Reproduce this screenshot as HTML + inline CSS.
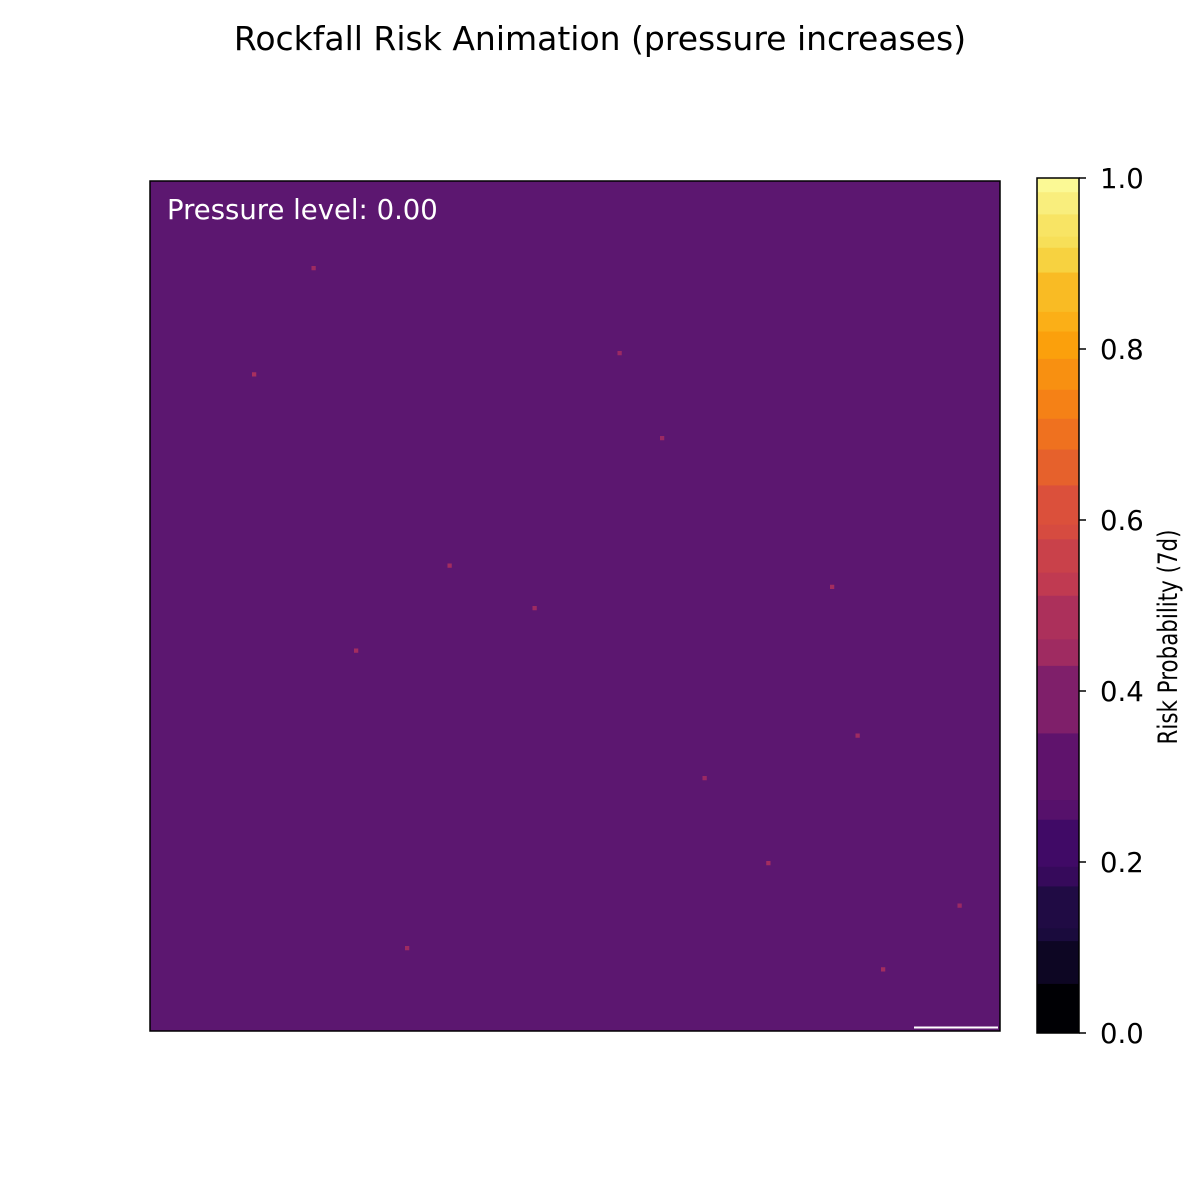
<!DOCTYPE html>
<html><head><meta charset="utf-8"><style>
html,body{margin:0;padding:0;background:#fff;}
svg{display:block;font-family:"DejaVu Sans","Liberation Sans",sans-serif;}
</style></head><body>
<svg id="chart" width="1200" height="1200" viewBox="0 0 1200 1200">
<text x="600" y="50" text-anchor="middle" font-size="33" fill="#000">Rockfall Risk Animation (pressure increases)</text>
<g id="heat"></g>
<line x1="914" y1="1027.5" x2="998" y2="1027.5" stroke="#fff" stroke-width="2"/>
<rect x="150" y="181" width="850" height="850" fill="none" stroke="#000" stroke-width="1.5"/>
<text x="167" y="219" font-size="27.5" fill="#fff">Pressure level: 0.00</text>
<g id="cbar"></g>
<text transform="translate(1177,637) rotate(-90)" text-anchor="middle" font-size="27" textLength="215" lengthAdjust="spacingAndGlyphs" fill="#000">Risk Probability (7d)</text>
</svg>
<script>
// Heatmap data: mean risk and a few visible hotspot cells (col,row in 0..199 grid, value)
const gridSize = 200;
const baseRisk = 0.30;
const hotCols = [24, 48, 90, 130, 70, 166, 145, 190, 38, 120, 172, 60, 110, 160];
const hotRows = [45, 110, 100, 140, 90, 130, 160, 170, 20, 60, 185, 180, 40, 95];
const hotVals = [0.45, 0.44, 0.43, 0.42, 0.44, 0.43, 0.44, 0.42, 0.43, 0.42, 0.44, 0.43, 0.42, 0.44];
// Colorbar band lower bounds
const bandEdges = [0, 0.058, 0.108, 0.123, 0.172, 0.195, 0.25, 0.273, 0.351, 0.43, 0.461, 0.512, 0.539, 0.578, 0.595, 0.641, 0.683, 0.719, 0.753, 0.789, 0.821, 0.844, 0.89, 0.919, 0.932, 0.958, 0.984, 1.0];
const cbTicks = [0.0, 0.2, 0.4, 0.6, 0.8, 1.0];
const cbTickLabels = ["0.0", "0.2", "0.4", "0.6", "0.8", "1.0"];

const NS = "http://www.w3.org/2000/svg";
const infStops = [[0,"#000004"],[0.1,"#160b39"],[0.2,"#420a68"],[0.3,"#6a176e"],[0.4,"#932667"],[0.5,"#bc3754"],[0.6,"#dd513a"],[0.7,"#f37819"],[0.8,"#fca50a"],[0.9,"#f6d746"],[1,"#fcffa4"]];
function hx(c){return [1,3,5].map(i=>parseInt(c.substr(i,2),16));}
function inferno(t){
  t=Math.max(0,Math.min(1,t));
  for(let i=0;i<infStops.length-1;i++){
    const [a,ca]=infStops[i],[b,cb]=infStops[i+1];
    if(t<=b){const f=(t-a)/(b-a);const A=hx(ca),B=hx(cb);
      return "rgb("+A.map((v,k)=>Math.round(v+(B[k]-v)*f)).join(",")+")";}
  }
  return infStops[infStops.length-1][1];
}
// axes
const px0=150,py0=181,pw=850;
const xCell=c=>px0+c*pw/gridSize, yCell=r=>py0+r*pw/gridSize;
const cb0=1033,cb1=178,cbx=1037,cbw=42;
const yCb=v=>cb0+(cb1-cb0)*v;

const heat=document.getElementById('heat');
const bg=document.createElementNS(NS,'rect');


bg.setAttribute('x',px0);bg.setAttribute('y',py0);bg.setAttribute('width',pw);bg.setAttribute('height',pw);
bg.setAttribute('fill','#5c1770');
heat.appendChild(bg);
hotCols.forEach((c,i)=>{
  const r=document.createElementNS(NS,'rect');
  
  
  r.setAttribute('x',xCell(c));r.setAttribute('y',yCell(hotRows[i]));
  r.setAttribute('width',pw/gridSize);r.setAttribute('height',pw/gridSize);
  r.setAttribute('fill',inferno(hotVals[i]));
  heat.appendChild(r);
});

const cbar=document.getElementById('cbar');
for(let i=0;i<bandEdges.length-1;i++){
  const r=document.createElementNS(NS,'rect');
  
  
  const yt=yCb(bandEdges[i+1]),yb=yCb(bandEdges[i]);
  r.setAttribute('x',cbx);r.setAttribute('y',yt);r.setAttribute('width',cbw);r.setAttribute('height',yb-yt+0.5);
  r.setAttribute('fill',inferno(bandEdges[i]));
  cbar.appendChild(r);
}
const fr=document.createElementNS(NS,'rect');


fr.setAttribute('x',cbx);fr.setAttribute('y',cb1);fr.setAttribute('width',cbw);fr.setAttribute('height',cb0-cb1);
fr.setAttribute('fill','none');fr.setAttribute('stroke','#000');fr.setAttribute('stroke-width','1.5');
cbar.appendChild(fr);
cbTicks.forEach((v,i)=>{
  const l=document.createElementNS(NS,'line');
  
  
  l.setAttribute('x1',cbx+cbw);l.setAttribute('x2',cbx+cbw+7);l.setAttribute('y1',yCb(v));l.setAttribute('y2',yCb(v));
  l.setAttribute('stroke','#000');l.setAttribute('stroke-width','1.5');
  cbar.appendChild(l);
  const t=document.createElementNS(NS,'text');
  
  
  t.setAttribute('x',cbx+cbw+21);t.setAttribute('y',yCb(v)+10);t.setAttribute('font-size','27.5');
  t.textContent=cbTickLabels[i];
  cbar.appendChild(t);
});
</script>
</body></html>
